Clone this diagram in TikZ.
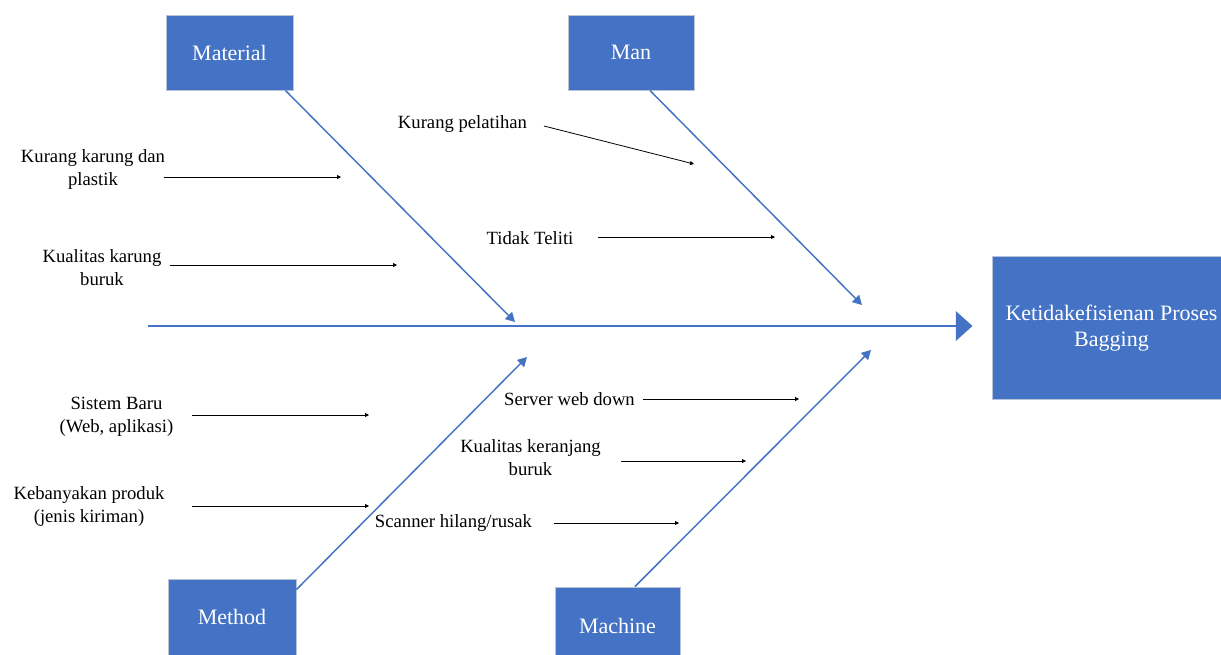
\documentclass[tikz,border=0pt]{standalone}
\usepackage{fontspec}
\setmainfont{Liberation Serif}
\usetikzlibrary{arrows.meta,calc}
\definecolor{boneblue}{RGB}{68,114,196}
\definecolor{boxline}{RGB}{185,195,215}
\tikzset{every picture/.style={line width=0.75pt}}
\tikzset{
  catbox/.style={draw=boxline, fill=boneblue, text=white, inner sep=0pt, align=center, font=\fontsize{16.5}{19.5}\selectfont},
  causetxt/.style={inner sep=0.75pt, align=center, font=\fontsize{14}{17.25}\selectfont},
  spine/.style={draw=boneblue, line width=1.9pt, -{Triangle[length=12.5pt,width=22pt]}},
  bone/.style={draw=boneblue, line width=1.1pt, -{Triangle[length=7pt,width=7.5pt]}},
  cause/.style={draw=black, line width=0.6pt, -{Triangle[length=3pt,width=3pt]}},
}

\begin{document}
\begin{tikzpicture}[x=0.75pt,y=0.75pt,yscale=-1,xscale=1]
\clip (0,0) rectangle (1221,654);
%Shape: Rectangle [Material]
\node [catbox, minimum width=95.25pt, minimum height=56.25pt] (mat) at (229.5,52.5) {Material};
%Shape: Rectangle [Man]
\node [catbox, minimum width=94.5pt, minimum height=56.25pt] (man) at (631,52.5) {Man};
%Shape: Rectangle [Method]
\node [catbox, minimum width=96pt, minimum height=57pt] (meth) at (232,617) {Method};
%Shape: Rectangle [Machine]
\node [catbox, minimum width=93.75pt, minimum height=58.5pt] (mach) at (617.5,626) {Machine};
%Shape: Rectangle [Effect]
\node [catbox, minimum width=179.25pt, minimum height=107.25pt] (eff) at (1111.5,328) {Ketidakefisienan Proses\\Bagging};

%Straight Lines [spine]
\coordinate (spS) at (148,326);
\coordinate (spT) at ($(eff.west)+(-19,0)$);
\draw [spine] (spS) -- (spS -| spT);
%Straight Lines [bones]
\coordinate (matT) at (515,322);
\coordinate (manT) at (862,305);
\coordinate (methT) at (527,357);
\coordinate (machT) at (871,350);
\draw [bone] ($(mat.south east)+(-8,0)$) -- (matT);
\draw [bone] ($(man.south)+(19,0)$) -- (manT);
\draw [bone] ($(meth.north east)+(0,11)$) -- (methT);
\draw [bone] ($(mach.north)+(17.5,0)$) -- (machT);

% Text Node
\node [causetxt] (c1) at (93,169.5) {Kurang karung dan\\plastik};
% Text Node
\node [causetxt] (c2) at (102,267.5) {Kualitas karung\\buruk};
% Text Node
\node [causetxt] (c3) at (462.5,124) {Kurang pelatihan};
% Text Node
\node [causetxt] (c4) at (530,238) {Tidak Teliti};
% Text Node
\node [causetxt] (c5) at (116.5,416.5) {Sistem Baru\\(Web, aplikasi)};
% Text Node
\node [causetxt] (c6) at (89,506.5) {Kebanyakan produk\\(jenis kiriman)};
% Text Node
\node [causetxt] (c7) at (569.5,399) {Server web down};
% Text Node
\node [causetxt] (c8) at (530.5,458) {Kualitas keranjang\\buruk};
% Text Node
\node [causetxt] (c9) at (453.5,523) {Scanner hilang/rusak};

%Straight Lines [cause arrows]
\coordinate (c1s) at (164,177);  \coordinate (c1e) at (341,177);
\coordinate (c2s) at (170,265);  \coordinate (c2e) at (397,265);
\coordinate (c3s) at (544,126);  \coordinate (c3e) at (694,164);
\coordinate (c4s) at (598,237);  \coordinate (c4e) at (775,237);
\coordinate (c5s) at (192,415);  \coordinate (c5e) at (369,415);
\coordinate (c6s) at (192,506);  \coordinate (c6e) at (369,506);
\coordinate (c7s) at (643,399);  \coordinate (c7e) at (799,399);
\coordinate (c8s) at (621,461);  \coordinate (c8e) at (746,461);
\coordinate (c9s) at (554,523);  \coordinate (c9e) at (679,523);
\foreach \i in {1,...,9}
  \draw [cause] (c\i s) -- (c\i e);
\end{tikzpicture}
\end{document}
